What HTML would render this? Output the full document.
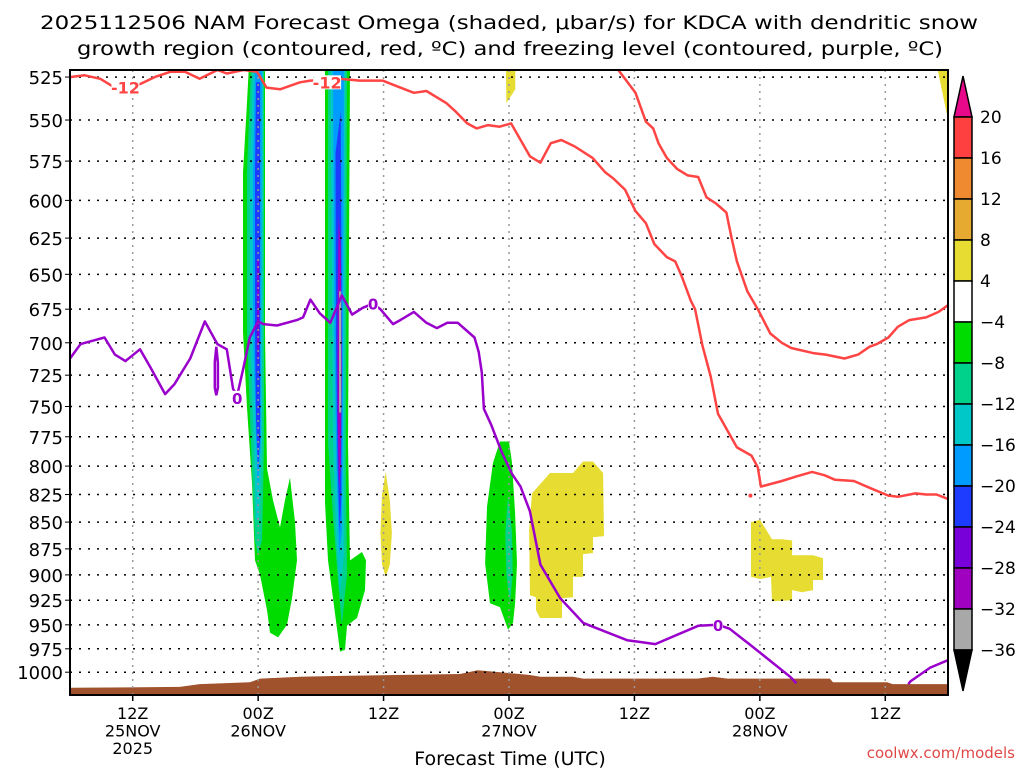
<!DOCTYPE html>
<html><head><meta charset="utf-8"><style>
html,body{margin:0;padding:0;background:#fff;}
svg{display:block;font-family:"DejaVu Sans","Liberation Sans",sans-serif;}
</style></head><body>
<svg id="chart" width="1024" height="768" viewBox="0 0 1024 768" xmlns="http://www.w3.org/2000/svg">
<rect x="0" y="0" width="1024" height="768" fill="#fff"/>
<text x="40" y="29" font-size="19" textLength="938" lengthAdjust="spacingAndGlyphs">2025112506 NAM Forecast Omega (shaded, μbar/s) for KDCA with dendritic snow</text>
<text x="77" y="55" font-size="19" textLength="866" lengthAdjust="spacingAndGlyphs">growth region (contoured, red, ºC) and freezing level (contoured, purple, ºC)</text>
<defs><clipPath id="plotclip"><rect x="70" y="70" width="878" height="625"/></clipPath></defs>
<g id="shade" clip-path="url(#plotclip)"></g>
<g id="grid"></g>
<g id="lines" clip-path="url(#plotclip)"></g>
<g id="axes"></g>
<g id="cbar"></g>
<text x="510" y="765" font-size="19" text-anchor="middle">Forecast Time (UTC)</text>
<text x="1015" y="758" font-size="15" text-anchor="end" fill="#e04848">coolwx.com/models</text>
</svg>
<script>
const pressureTicks = [525,550,575,600,625,650,675,700,725,750,775,800,825,850,875,900,925,950,975,1000];
const timeTickHours = [6,18,30,42,54,66,78];
const timeTickLine1 = ['12Z','00Z','12Z','00Z','12Z','00Z','12Z'];
const timeTickLine2 = ['25NOV','26NOV','','27NOV','','28NOV',''];
const timeTickLine3 = ['2025','','','','','',''];
const cbarLevels = [20,16,12,8,4,-4,-8,-12,-16,-20,-24,-28,-32,-36];
const cbarColors = ['#ff4040','#f08a30','#e6aa30','#e6dc32','#ffffff','#00dc00','#00d28c','#00c8c8','#009bff','#1e3cff','#7800d8','#a000c0','#a8a8a8'];
const red1 = [[0,525],[1.4,524],[2.9,526],[4.0,530],[6.7,529],[8.1,525],[9.6,522],[11.0,522],[12.4,526],[14.1,521],[15.0,523],[16.6,521],[17.9,522],[18.8,531],[20.1,532],[22.0,528],[23.0,527],[25.8,526],[27.7,527],[29.9,527],[31.6,531],[32.9,534],[34.1,533],[36.0,540],[36.9,545],[38.0,552],[38.9,555],[40.0,553],[41.1,554],[42.2,552],[44.0,572],[45.0,576],[46.0,564],[47.0,562],[48.3,566],[50.0,573],[51.2,582],[52.0,586],[53.1,593],[54.1,607],[55.1,615],[55.9,629],[57.1,638],[57.9,641],[58.5,651],[59.4,669],[59.8,675],[60.5,702],[61.3,726],[62.0,756],[63.8,784],[65.2,791],[65.8,801],[66.1,818],[68.1,813],[69.5,809],[71.0,805],[72.2,808],[73.2,812],[75.0,813],[76.5,819],[78.3,826],[79.2,827],[80.9,824],[81.9,825],[82.9,825],[84,829]];
const red2 = [[52.2,519],[54.1,534],[55.1,551],[55.8,555],[56.3,564],[57.1,573],[58.1,580],[59.1,584],[60.1,585],[60.9,598],[61.8,602],[62.8,608],[63.3,625],[63.8,641],[64.8,662],[65.8,675],[67.0,693],[68.1,700],[69.0,704],[71.2,708],[72.3,709],[74.1,712],[75.4,709],[76.5,703],[77.2,701],[78.3,696],[79.2,688],[80.3,683],[81.9,681],[83.1,677],[84,672]];
const redDot = [65.1,826];
const purple1 = [[0,712],[1.0,701],[2.4,698],[3.3,696],[4.3,709],[5.3,714],[6.7,705],[7.7,719],[9.1,740],[10.0,732],[11.5,712],[12.9,684],[14.1,701],[15.0,705],[15.6,736],[16.0,741],[16.6,719],[17.2,696],[18.0,684],[18.5,686],[19.8,687],[21.7,683],[22.3,681],[23.0,668],[23.9,678],[24.9,685],[26.0,665],[27.0,679],[28.0,674],[29.0,671],[29.7,675],[30.9,686],[31.6,683],[32.9,677],[34.1,685],[35.1,689],[36.1,685],[37.1,685],[38.7,696],[39.1,707],[39.4,723],[39.6,752],[40.3,765],[41.3,788],[42.3,807],[43.1,818],[44.0,840],[45.0,890],[46.9,923],[49.1,948],[53.3,966],[56.0,970],[60.1,951],[62.0,950],[63.1,954],[65.1,971],[68.9,1005],[69.5,1012]];
const purple2 = [[80.2,1013],[80.4,1010],[82.3,995],[84,987]];
const purpleDrop = [[14.0,703],[14.15,715],[14.15,735],[14.0,741],[13.85,735],[13.85,715]];
const terrain = [[0,1017],[10.5,1016],[12.4,1013],[17.2,1011],[18.2,1007],[22.0,1005],[25.8,1004],[37.3,1002],[39.0,998],[42.1,1001],[44.0,1003],[45.0,1005],[48.1,1005],[49.1,1007],[60.0,1007],[61.5,1005],[62.9,1007],[72.7,1007],[73.0,1011],[78.2,1011],[78.7,1013],[84,1013]];
const redLabels = [[5.3,531],[24.6,528]];
const purpleLabels = [[16.0,743],[29.0,671],[62.0,950]];
const greenA = [[17.1,521],[18.66,521],[18.66,692],[18.85,802],[19.42,830],[20.09,855],[20.57,830],[21.05,810],[21.53,850],[21.72,886],[21.24,923],[20.76,950],[19.90,963],[19.13,958],[18.85,935],[18.18,900],[17.70,886],[17.41,815],[16.93,751],[16.55,692],[16.55,582],[16.9,544]];
const tealA = [[17.3,521],[18.56,521],[18.56,786],[18.37,867],[17.99,881],[17.70,867],[17.41,803],[16.93,692],[16.93,582]];
const cyanA = [[17.5,521],[18.47,521],[18.37,786],[18.08,848],[17.80,848],[17.60,786],[17.22,692],[17.22,582]];
const lightblueA = [[17.7,521],[18.37,521],[18.27,778],[17.99,821],[17.80,778],[17.51,692],[17.51,582]];
const blueA = [[17.8,528],[18.18,528],[18.18,778],[17.99,803],[17.80,761],[17.70,692],[17.70,582]];
const violetA = [[17.88,640],[18.1,640],[18.1,700],[18.0,720],[17.88,700]];
const greenB = [[24.40,521],[26.79,521],[26.60,781],[26.79,886],[27.94,878],[28.32,886],[28.22,915],[27.46,943],[26.50,951],[26.31,976],[25.83,978],[25.16,923],[24.68,886],[24.40,832]];
const tealB = [[24.68,521],[26.50,521],[26.40,800],[26.5,900],[26.0,950],[25.6,900],[25.2,850],[24.68,780]];
const cyanB = [[24.9,521],[26.31,521],[26.2,800],[26.2,880],[25.83,920],[25.5,870],[25.16,780]];
const lightblueB = [[25.16,521],[26.2,521],[26.1,780],[26.0,860],[25.75,880],[25.5,800],[25.3,700]];
const blueB = [[25.4,570],[25.9,545],[26.0,700],[25.95,830],[25.8,860],[25.6,800],[25.45,700]];
const violetB = [[25.7,610],[25.9,630],[26.0,720],[25.9,800],[25.75,820],[25.6,760],[25.6,680]];
const grayB = [[25.75,662],[25.95,662],[25.95,755],[25.75,755]];
const greenC = [[41.14,779],[42.00,779],[42.29,797],[42.58,842],[42.77,889],[42.58,928],[42.38,948],[41.91,955],[41.14,932],[40.18,928],[39.71,889],[39.90,836],[40.47,797]];
const tealC = [[41.9,826],[42.3,860],[42.35,900],[42.1,928],[41.75,900],[41.65,860]];
const yellowF = [[30.2,805],[30.6,830],[30.8,860],[30.6,890],[30.2,902],[29.85,890],[29.7,860],[29.85,825]];
const yellowG = [[41.7,519],[42.6,519],[42.6,532],[41.75,540]];
const yellowH = [[82.95,519],[84.2,519],[84.2,556]];
const yellowD = [[44.20,824],[45.92,806],[48.12,806],[49.08,796],[50.04,796],[51.00,806],[51.09,863],[50.04,864],[50.04,879],[49.08,880],[49.08,902],[48.12,902],[48.12,922],[47.07,923],[47.07,943],[44.97,943],[44.58,935],[44.58,922],[44.01,920],[43.92,857]];
const yellowE = [[65.15,850],[66.02,848],[67.16,866],[68.12,866],[69.08,867],[69.08,881],[71.09,881],[72.04,884],[72.04,905],[71.09,905],[71.09,915],[70.03,917],[69.08,915],[69.08,925],[67.16,926],[67.07,902],[66.02,904],[65.15,902]];

const NS = 'http://www.w3.org/2000/svg';
const X0=70, X1=948, Y0=70, Y1=695, H0=0, H1=84, P0=521, P1=1025;
function xS(h){ return X0 + (h-H0)*(X1-X0)/(H1-H0); }
function yS(p){ return Y0 + (Y1-Y0)*Math.log(p/P0)/Math.log(P1/P0); }
function mk(tag, attrs, parent){ const e=document.createElementNS(NS,tag); for(const k in attrs) e.setAttribute(k,attrs[k]); parent.appendChild(e); return e; }
function pts(arr){ return arr.map(d=>xS(d[0]).toFixed(1)+','+yS(d[1]).toFixed(1)).join(' '); }

const shade=document.getElementById('shade'), grid=document.getElementById('grid'), lines=document.getElementById('lines'), axes=document.getElementById('axes'), cbar=document.getElementById('cbar');
const shadeColor = {green:'#00dc00',teal:'#00d28c',cyan:'#00c8c8',lightblue:'#009bff',blue:'#1e3cff',violet:'#7800d8',purple:'#a000c0',gray:'#a8a8a8',yellow:'#e6dc32'};
const polys = [['green-a',greenA,'green'],['teal-a',tealA,'teal'],['cyan-a',cyanA,'cyan'],['lightblue-a',lightblueA,'lightblue'],['blue-a',blueA,'blue'],['violet-a',violetA,'violet'],
 ['green-b',greenB,'green'],['teal-b',tealB,'teal'],['cyan-b',cyanB,'cyan'],['lightblue-b',lightblueB,'lightblue'],['blue-b',blueB,'blue'],['violet-b',violetB,'purple'],['gray-b',grayB,'gray'],
 ['green-c',greenC,'green'],['teal-c',tealC,'teal'],['yellow-f',yellowF,'yellow'],['yellow-g',yellowG,'yellow'],['yellow-h',yellowH,'yellow'],['yellow-d',yellowD,'yellow'],['yellow-e',yellowE,'yellow']];
polys.forEach(pd=>{
  const e=mk('polygon',{points:pts(pd[1]),fill:shadeColor[pd[2]]},shade);
  
  
});
const terr = mk('polygon',{points:pts(terrain.concat([[84,P1],[0,P1]])),fill:'#a0522d'},shade);



pressureTicks.forEach(p=>{
  const l=mk('line',{x1:X0,x2:X1,y1:yS(p),y2:yS(p),stroke:'#000','stroke-width':1.5,'stroke-dasharray':'2 7'},grid);
  
  
  const t=mk('text',{x:63,y:yS(p)+7,'font-size':18,'text-anchor':'end'},axes);
  t.textContent=p;
  
  
  mk('line',{x1:X0-5,x2:X0,y1:yS(p),y2:yS(p),stroke:'#000','stroke-width':1},axes);
});
timeTickHours.forEach((h,i)=>{
  const l=mk('line',{x1:xS(h),x2:xS(h),y1:Y0,y2:Y1,stroke:'#999','stroke-width':1.5,'stroke-dasharray':'2 5'},grid);
  
  
  mk('line',{x1:xS(h),x2:xS(h),y1:Y1,y2:Y1+6,stroke:'#000','stroke-width':1.5},axes);
  [timeTickLine1[i],timeTickLine2[i],timeTickLine3[i]].forEach((s,j)=>{
    if(!s) return;
    const t=mk('text',{x:xS(h),y:719+j*17.5,'font-size':16,'text-anchor':'middle'},axes);
    t.textContent=s;
    
    
  });
});
const frame=mk('rect',{x:X0,y:Y0,width:X1-X0,height:Y1-Y0,fill:'none',stroke:'#000','stroke-width':2},axes);



[[red1,'#ff4444','dgz-contour-upper'],[red2,'#ff4444','dgz-contour-lower'],[purple1,'#9a00cc','freezing-level-line'],[purple2,'#9a00cc','freezing-level-line-2']].forEach(ld=>{
  const e=mk('polyline',{points:pts(ld[0]),fill:'none',stroke:ld[1],'stroke-width':2.5,'stroke-linejoin':'round'},lines);
  
  
});
const drop=mk('polygon',{points:pts(purpleDrop),fill:'none',stroke:'#9a00cc','stroke-width':2.5},lines);


const dot=mk('circle',{cx:xS(redDot[0]),cy:yS(redDot[1]),r:2,fill:'#ff4444'},lines);


redLabels.forEach(d=>{
  mk('rect',{x:xS(d[0])-14,y:yS(d[1])-7,width:28,height:14,fill:'#fff'},lines);
  const t=mk('text',{x:xS(d[0]),y:yS(d[1])+6,'font-size':16,'font-weight':'bold','text-anchor':'middle',fill:'#ff4444'},lines);
  t.textContent='-12';
  
  
});
purpleLabels.forEach(d=>{
  mk('rect',{x:xS(d[0])-5,y:yS(d[1])-7,width:10,height:14,fill:'#fff'},lines);
  const t=mk('text',{x:xS(d[0]),y:yS(d[1])+6,'font-size':15,'font-weight':'bold','text-anchor':'middle',fill:'#9a00cc'},lines);
  t.textContent='0';
  
  
});

const CB0=954, CB1=972, cbTop=117, cbStep=41;
function cbY(i){ return cbTop + i*cbStep; }
const tri1=mk('polygon',{points:`${CB0},${cbTop} ${CB1},${cbTop} ${(CB0+CB1)/2},76`,fill:'#e8098a',stroke:'#000','stroke-width':1.5},cbar);


cbarColors.forEach((c,i)=>{
  const r=mk('rect',{x:CB0,y:cbY(i),width:CB1-CB0,height:cbStep,fill:c,stroke:'#000','stroke-width':1.5},cbar);
  
  
});
const tri2=mk('polygon',{points:`${CB0},${cbY(13)} ${CB1},${cbY(13)} ${(CB0+CB1)/2},691`,fill:'#000',stroke:'#000','stroke-width':1.5},cbar);


cbarLevels.forEach((v,i)=>{
  const t=mk('text',{x:980,y:cbY(i)+6,'font-size':17},cbar);
  t.textContent=(v<0?'\u2212':'')+Math.abs(v);
  
  
});
</script>
</body></html>
